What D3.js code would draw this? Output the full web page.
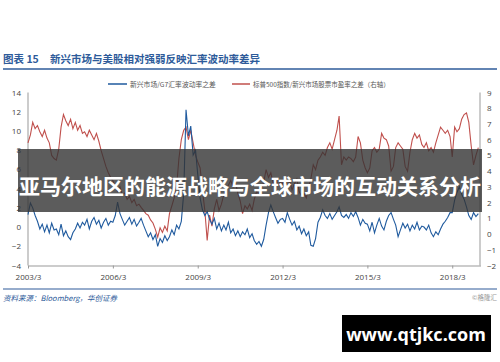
<!DOCTYPE html>
<html>
<head>
<meta charset="utf-8">
<script src="https://cdn.jsdelivr.net/npm/d3@7"></script>
<style>
  body { margin: 0; background: #fff; }
  svg { display: block; font-family: "Noto Sans CJK SC", "Noto Sans", sans-serif; }
</style>
</head>
<body>
<div id="chart"></div>
<script>
// monthly, 2003/3 .. 2019/2
var emG7Diff = [
  1.3, 2.5, 2.0, 1.2, 0.6, -0.2, 0.3, -0.5, 0.2, -0.6, 0.4, -0.3,
  -0.2, -0.8, 0.3, -0.9, -0.4, -1.0, -1.3, -0.6, -0.2, 0.4, -0.1, 0.5,
  0.2, 0.8, -0.2, 0.6, 1.0, 0.3, 0.7, -0.1, 0.5, 0.9, 0.2, 0.6,
  0.5, 1.2, 2.6, 1.4, 0.8, 0.2, 0.6, 1.0, 0.3, 0.8, 0.1, 0.5,
  0.9, 0.2, -0.4, -1.0, -0.6, -1.3, -0.8, -2.0, -1.2, -1.6, -0.9, -1.4,
  -1.0, -0.3, -0.8, 0.2, -0.2, 0.6, 3.5, 12.2, 9.5, 10.5, 7.5, 8.0,
  5.5, 3.0, 1.8, 1.2, 1.6, 0.8, 0.3, 0.9, -0.2, 0.4, -0.4, 0.2,
  -0.3, 0.5, -0.6, -0.2, -0.9, -0.4, -1.0, -0.5, -0.8, -0.2, -1.1, -0.7,
  -1.4, -1.8, -1.5, -2.0, -1.3, 0.2, 1.5, 2.3, 1.6, 1.0, 0.4, 0.8,
  0.9, 0.5, 1.5, 0.8, 0.2, 0.6, -0.3, 0.1, -0.7, -0.2, -0.9, -0.5,
  -1.9, -2.0, -1.2, 0.5, 1.0, 1.8, 1.2, 0.9, 1.4, 0.8, 1.2, 1.6,
  2.1, 1.2, 1.0, 1.3, 0.9, 1.5, 1.1, 1.6, 1.0, 0.2, 0.8, 0.4,
  0.3, -0.4, 0.5, -0.6, 0.2, 0.9, 0.1, -0.3, 0.6, 1.2, 1.5, 0.8,
  0.2, -1.0, -0.3, 0.4, -0.1, 0.3, -0.4, 0.2, -0.2, 0.5, -0.3, 0.1,
  0.0, -0.3, 0.2, -0.6, -1.0, -0.5, -0.8, -0.2, 0.3, 0.6, 1.0, 1.5,
  1.5, 2.8, 3.6, 4.2, 3.4, 2.9, 2.1, 1.2, 0.8, 1.5, 1.1, 1.4
]

var spxEmPeDiff = [
  5.8, 6.3, 7.1, 6.7, 6.9, 6.5, 6.2, 6.6, 6.1, 5.8, 5.0, 4.8,
  4.7, 5.4, 6.8, 7.6, 7.2, 6.9, 7.3, 6.7, 7.1, 6.6, 6.9, 6.4,
  6.5, 6.2, 6.6, 6.3, 6.0, 6.4, 5.9, 5.3, 4.8, 4.3, 3.9, 3.6,
  3.4, 3.0, 2.7, 3.0, 2.5, 2.6, 2.2, 2.4, 2.0, 2.2, 1.8, 1.9,
  1.7, 1.5, 1.3, 1.2, 0.9, 0.7, 0.3, -0.2, 0.4, 0.1, 0.5, 0.2,
  1.3, 1.8, 2.3, 3.0, 4.8, 6.0, 6.6, 6.8, 6.0, 6.6, 5.8, 5.0,
  4.6, 4.2, 2.8, 1.5, -0.4, 1.2, 0.5, 1.6, 2.2, 1.5, 1.9, 2.5,
  2.8, 3.1, 3.4, 3.0, 3.3, 2.6, 2.1, 1.3, 1.8, 1.6, 1.9, 1.5,
  2.2, 2.7, 2.6, 2.9, 3.3, 4.1, 3.6, 3.9, 3.2, 3.5, 3.1, 3.3,
  3.2, 3.6, 2.9, 3.4, 2.8, 3.2, 3.5, 2.7, 2.4, 2.6, 2.3, 3.0,
  3.5, 4.4, 4.1, 4.7, 4.9, 5.2, 5.0, 5.5, 5.8, 5.4, 6.0, 6.6,
  7.5, 4.4, 4.9, 4.7, 4.9, 4.8, 4.6, 4.9, 6.2, 5.8, 4.7, 4.2,
  3.9, 4.2, 5.3, 5.5, 5.2, 5.4, 6.4, 6.1, 6.0, 5.6, 4.0, 4.3,
  5.5, 5.8, 5.6, 5.4, 4.3, 4.0, 5.2, 6.0, 6.4, 6.1, 6.3, 5.7,
  5.5, 5.8, 5.3, 5.5, 5.2, 5.8, 6.3, 6.8, 6.6, 6.4, 6.6, 6.2,
  4.9, 6.8, 6.5, 6.7, 7.3, 7.6, 7.7, 7.1, 5.6, 4.4, 5.0, 5.5
]

var months = d3.timeMonth.range(new Date(2003, 2, 1), new Date(2019, 2, 1))
var xTickLabels = ["2003/3", "2006/3", "2009/3", "2012/3", "2015/3", "2018/3"]
var leftTicks = [-4, -2, 0, 2, 4, 6, 8, 10, 12, 14]
var rightTicks = [-2, -1, 0, 1, 2, 3, 4, 5, 6, 7, 8, 9]

var seriesNames = ["新兴市场/G7汇率波动率之差", "标普500指数/新兴市场股票市盈率之差（右轴）"]
var titleText = "新兴市场与美股相对强弱反映汇率波动率差异"
var bannerText = "亚马尔地区的能源战略与全球市场的互动关系分析"

var W = 500, H = 362
var blue = "#1f5a9e", red = "#c0504d", navy = "#2e5b9a"

var svg = d3.select("#chart").append("svg").attr("width", W).attr("height", H)

var x = d3.scaleTime().domain([new Date(2003, 2, 1), new Date(2019, 2, 1)]).range([28, 480.5])
var yL = d3.scaleLinear().domain([-4, 14]).range([265.5, 92.5])
var yR = d3.scaleLinear().domain([-2, 9]).range([265.5, 92.5])

// title
var title = svg.append("text").attr("x", 3).attr("y", 63)
  .style("font-size", "10.5px").style("font-weight", "bold").style("fill", navy)
title.append("tspan").text("图表 15")
title.append("tspan").attr("x", 50).text(titleText)

svg.append("line").attr("x1", 3).attr("x2", 497).attr("y1", 69).attr("y2", 69)
  .style("stroke", navy).style("stroke-width", 1.5)

// legend
svg.append("line").attr("x1", 108).attr("x2", 127).attr("y1", 84).attr("y2", 84)
  .style("stroke", blue).style("stroke-width", 1.5)
svg.append("text").attr("x", 130).attr("y", 86.5).text(seriesNames[0])
  .style("font-size", "6.8px").style("fill", "#555")
svg.append("line").attr("x1", 232).attr("x2", 250).attr("y1", 84).attr("y2", 84)
  .style("stroke", red).style("stroke-width", 1.5)
svg.append("text").attr("x", 253).attr("y", 86.5).text(seriesNames[1])
  .style("font-size", "6.5px").style("fill", "#555")

// axes
var axL = svg.append("g").attr("transform", "translate(28,0)")
  .call(d3.axisLeft(yL).tickValues(leftTicks).tickSize(0).tickPadding(7))
var axR = svg.append("g").attr("transform", "translate(480,0)")
  .call(d3.axisRight(yR).tickValues(rightTicks).tickSize(0).tickPadding(7))
var xTickDates = xTickLabels.map(function (s) {
  var p = s.split("/"); return new Date(+p[0], +p[1] - 1, 1)
})
var axB = svg.append("g").attr("transform", "translate(0,265.5)")
  .call(d3.axisBottom(x).tickValues(xTickDates).tickSize(3).tickSizeOuter(0).tickPadding(6)
    .tickFormat(function (d, i) { return xTickLabels[i] }))

;[axL, axR, axB].forEach(function (g) {
  g.selectAll("text").style("font-size", "8px").style("fill", "#444")
    .style("font-family", "'Open Sans', 'Noto Sans', sans-serif")
  g.select(".domain").style("stroke", "#999")
  g.selectAll(".tick line").style("stroke", "#999")
})
axL.select(".domain").attr("d", "M0,92.5V265.5")
axR.select(".domain").attr("d", "M0,92.5V265.5")

// lines
var lineL = d3.line().x(function (d, i) { return x(months[i]) }).y(function (d) { return yL(d) })
var lineR = d3.line().x(function (d, i) { return x(months[i]) }).y(function (d) { return yR(d) })

svg.append("path").datum(spxEmPeDiff).attr("d", lineR)
  .style("fill", "none").style("stroke", red).style("stroke-width", 1.1)
svg.append("path").datum(emG7Diff).attr("d", lineL)
  .style("fill", "none").style("stroke", blue).style("stroke-width", 1.1)

// bottom rule and source
svg.append("line").attr("x1", 3).attr("x2", 497).attr("y1", 289).attr("y2", 289)
  .style("stroke", navy).style("stroke-width", 1.2)
svg.append("text").attr("x", 3).attr("y", 301).text("资料来源：Bloomberg，华创证券")
  .style("font-size", "7.5px").style("font-style", "italic").style("fill", navy)
svg.append("text").attr("x", 497).attr("y", 300).attr("text-anchor", "end").text("©格隆汇")
  .style("font-size", "6.5px").style("fill", "#999")

// overlay banner
svg.append("rect").attr("x", 18).attr("y", 149).attr("width", 464).attr("height", 63)
  .style("fill", "#333").style("opacity", 0.8)
svg.append("text").attr("x", 250).attr("y", 185).attr("text-anchor", "middle")
  .attr("dominant-baseline", "central").text(bannerText)
  .style("font-size", "21px").style("font-weight", "bold").style("fill", "#fff")

// site mark
svg.append("rect").attr("x", 342).attr("y", 315).attr("width", 149).attr("height", 37)
  .style("fill", "#000")
svg.append("text").attr("x", 416).attr("y", 334).attr("text-anchor", "middle")
  .attr("dominant-baseline", "central").text("www.qtjkc.com")
  .style("font-family", "'Open Sans', sans-serif")
  .style("font-size", "18px").style("font-weight", "bold").style("fill", "#fff")
</script>
</body>
</html>
